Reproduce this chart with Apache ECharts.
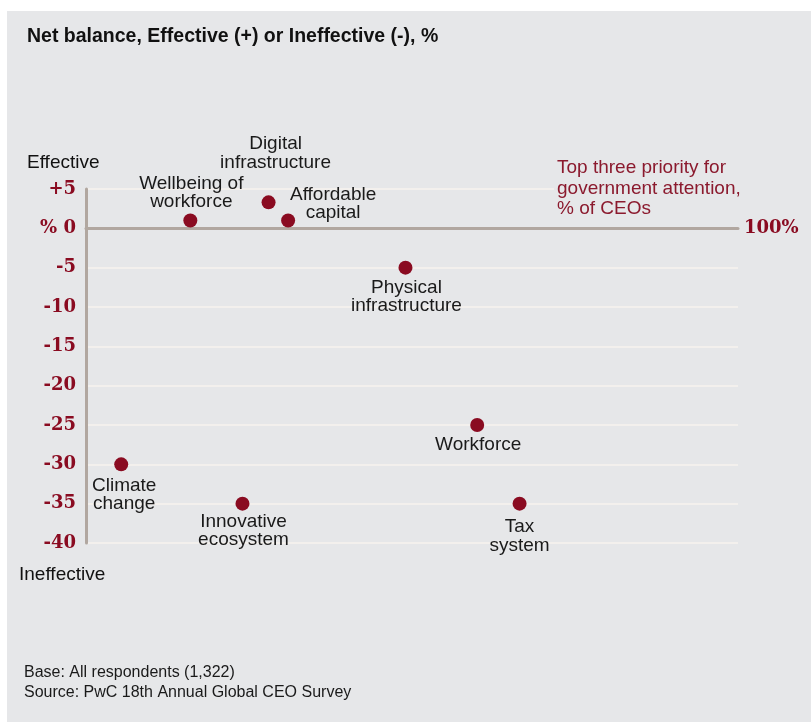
<!DOCTYPE html>
<html>
<head>
<meta charset="utf-8">
<script src="https://cdn.jsdelivr.net/npm/echarts@6/dist/echarts.min.js"></script>
<style>
html,body{margin:0;padding:0;background:#ffffff;}
#chart{width:811px;height:722px;}
</style>
</head>
<body>
<div id="chart"></div>
<script>
// ---- data ----
var pointNames = [
  'Wellbeing of\nworkforce',
  'Digital\ninfrastructure',
  'Affordable\ncapital',
  'Physical\ninfrastructure',
  'Workforce',
  'Tax\nsystem',
  'Climate\nchange',
  'Innovative\necosystem'
];
// Top three priority for government attention, % of CEOs
var priorityPct = [16, 28, 31, 49, 60, 66.5, 5.4, 24];
// Net balance, effective (+) or ineffective (-), %
var netBalance = [1, 3.3, 1, -5, -25, -35, -30, -35];
var yTickValues = [5, 0, -5, -10, -15, -20, -25, -30, -35, -40];

// ---- label placement (style, not data) ----
var labelPlacement = [
  {position: 'top', distance: 3, offset: [1, 0], lineHeight: 18},
  {position: 'top', distance: 23, offset: [7, 0], lineHeight: 19},
  {position: 'top', distance: 0, offset: [45, 8], lineHeight: 18},
  {position: 'bottom', distance: 4, offset: [1, 0], lineHeight: 18},
  {position: 'bottom', distance: 4, offset: [1, 0], lineHeight: 18},
  {position: 'bottom', distance: 7, offset: [0, 0], lineHeight: 19},
  {position: 'bottom', distance: 5, offset: [3, 0], lineHeight: 18},
  {position: 'bottom', distance: 2, offset: [1, 0], lineHeight: 18}
];

var RED = '#8a0b21';
var BG = '#e6e7e9';
var SANS = '"Liberation Sans", Arial, Helvetica, sans-serif';
var SERIF = '"DejaVu Serif", serif';

var seriesData = pointNames.map(function (n, i) {
  var lp = labelPlacement[i];
  return {
    name: n,
    value: [priorityPct[i], netBalance[i]],
    label: {
      show: true,
      formatter: n,
      position: lp.position,
      distance: lp.distance,
      offset: lp.offset,
      lineHeight: lp.lineHeight,
      align: 'center',
      color: '#1a1a1a',
      fontFamily: SANS,
      fontSize: 19
    }
  };
});

var chart = echarts.init(document.getElementById('chart'), null, {renderer: 'canvas'});
chart.setOption({
  backgroundColor: '#ffffff',
  animation: false,
  grid: {left: 86, right: 73, top: 189, bottom: 179, containLabel: false},
  xAxis: {
    type: 'value',
    min: 0,
    max: 100,
    axisLine: {show: true, onZero: true, lineStyle: {color: '#b1a7a0', width: 3}},
    axisTick: {show: false},
    axisLabel: {show: false},
    splitLine: {show: false},
    name: '100%',
    nameLocation: 'end',
    nameGap: 6,
    nameTextStyle: {color: RED, fontFamily: SERIF, fontWeight: 'bold', fontSize: 18, verticalAlign: 'middle'}
  },
  yAxis: {
    type: 'value',
    min: -40,
    max: 5,
    interval: 5,
    axisLine: {show: true, lineStyle: {color: '#b1a7a0', width: 3}},
    axisTick: {show: false},
    splitLine: {show: true, lineStyle: {color: '#f3f0ed', width: 2}},
    axisLabel: {
      margin: 10,
      color: RED,
      fontFamily: SERIF,
      fontWeight: 'bold',
      fontSize: 18,
      formatter: function (v) {
        if (yTickValues.indexOf(v) < 0) return '';
        if (v > 0) return '+' + v;
        if (v === 0) return '% 0';
        return String(v);
      }
    }
  },
  graphic: [
    {type: 'rect', z: -10, silent: true, shape: {x: 7, y: 11, width: 804, height: 711}, style: {fill: BG}},
    {type: 'text', left: 27, top: 27, z: 100, style: {text: 'Net balance, Effective (+) or Ineffective (-), %', fill: '#111', font: 'bold 19.5px ' + SANS}},
    {type: 'text', left: 27, top: 153, z: 100, style: {text: 'Effective', fill: '#111', font: '19px ' + SANS}},
    {type: 'text', left: 19, top: 565, z: 100, style: {text: 'Ineffective', fill: '#111', font: '19px ' + SANS}},
    {type: 'text', left: 554, top: 158, z: 100, style: {text: 'Top three priority for\ngovernment attention,\n% of CEOs', fill: '#8b1a2e', font: '19px ' + SANS, lineHeight: 20.5, backgroundColor: BG, padding: [0, 0, 0, 3]}},
    {type: 'text', left: 24, top: 662, z: 100, style: {text: 'Base: All respondents (1,322)\nSource: PwC 18th Annual Global CEO Survey', fill: '#1a1a1a', font: '16px ' + SANS, lineHeight: 20.5}}
  ],
  series: [{
    type: 'scatter',
    symbol: 'circle',
    symbolSize: 14,
    itemStyle: {color: RED, opacity: 1},
    z: 10,
    data: seriesData
  }]
});
</script>
</body>
</html>
